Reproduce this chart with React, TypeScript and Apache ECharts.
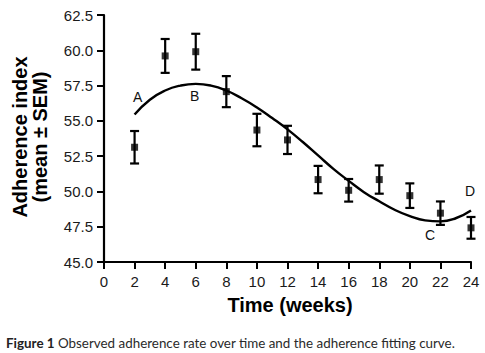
import React, { useEffect, useRef } from "react";
import * as echarts from "echarts";

const weeks = [2, 4, 6, 8, 10, 12, 14, 16, 18, 20, 22, 24];
const means = [53.13, 59.6, 59.9, 57.07, 54.35, 53.65, 50.84, 50.08, 50.84, 49.7, 48.46, 47.42];
const sems = [1.15, 1.2, 1.27, 1.1, 1.15, 1.0, 0.97, 0.8, 1.0, 0.87, 0.83, 0.77];

const fitWeeks = [2, 3, 4, 5, 6, 7, 8, 9, 10, 11, 12, 13, 14, 15, 16, 17, 18, 19, 20, 21, 22, 23, 24];
const fitValues = [55.45, 56.5, 57.15, 57.5, 57.62, 57.5, 57.15, 56.6, 55.95, 55.2, 54.4, 53.5, 52.55, 51.6, 50.75, 49.95, 49.3, 48.7, 48.25, 47.95, 47.88, 48.1, 48.65];

const pointLabels = ["A", "B", "C", "D"];
const pointLabelX = [2.2, 5.93, 21.32, 23.94];
const pointLabelY = [56.72, 56.74, 46.89, 50.05];

const xTicks = { min: 0, max: 24, interval: 2 };
const yTicks = { min: 45, max: 62.5, interval: 2.5 };

const xTitle = "Time (weeks)";
const yTitle = "Adherence index\n(mean ± SEM)";
const captionBold = "Figure 1";
const captionText = " Observed adherence rate over time and the adherence fitting curve.";

export default function App() {
  const ref = useRef<HTMLDivElement>(null);
  useEffect(() => {
    if (!ref.current) return;
    const chart = echarts.init(ref.current, null, { renderer: "svg" });
    const errData = weeks.map((w, i) => [w, means[i] - sems[i], means[i] + sems[i]]);
    const baseGraphic: any[] = [
      {
        type: "text",
        x: 290,
        y: 305,
        style: {
          text: xTitle,
          fill: "#000",
          font: "bold 20px 'Liberation Sans', Arial, sans-serif",
          textAlign: "center",
          textVerticalAlign: "middle",
        },
      },
      {
        type: "text",
        x: 30,
        y: 137,
        rotation: Math.PI / 2,
        style: {
          text: yTitle,
          fill: "#000",
          font: "bold 20px 'Liberation Sans', Arial, sans-serif",
          lineHeight: 20,
          textAlign: "center",
          textVerticalAlign: "middle",
        },
      },
      {
        type: "text",
        x: 6,
        y: 343,
        style: {
          text: "{b|" + captionBold + "}" + captionText,
          fill: "#2a2a2a",
          font: "13.4px Lato, 'Open Sans', sans-serif",
          textVerticalAlign: "middle",
          rich: {
            b: { fontWeight: "bold", fontSize: 13.4, fontFamily: "Lato, 'Open Sans', sans-serif", fill: "#222" },
          },
        },
      },
    ];
    chart.setOption({
      animation: false,
      backgroundColor: "#ffffff",
      grid: { left: 104, right: 14, top: 15, bottom: 91, containLabel: false },
      xAxis: {
        type: "value",
        min: xTicks.min,
        max: xTicks.max,
        interval: xTicks.interval,
        axisLine: { show: true, lineStyle: { color: "#000", width: 2.2 } },
        axisTick: { show: true, length: 7, lineStyle: { color: "#000", width: 2 } },
        axisLabel: { color: "#1a1a1a", fontSize: 15, fontFamily: "Liberation Sans, Arial, sans-serif", margin: 12 },
        splitLine: { show: false },
      },
      yAxis: {
        type: "value",
        min: yTicks.min,
        max: yTicks.max,
        interval: yTicks.interval,
        axisLine: { show: true, lineStyle: { color: "#000", width: 2.2 } },
        axisTick: { show: true, length: 7, lineStyle: { color: "#000", width: 2 } },
        axisLabel: {
          color: "#1a1a1a",
          fontSize: 15,
          fontFamily: "Liberation Sans, Arial, sans-serif",
          margin: 11,
          formatter: (v: number) => v.toFixed(1),
        },
        splitLine: { show: false },
      },
      series: [
        {
          type: "line",
          data: fitWeeks.map((w, i) => [w, fitValues[i]]),
          smooth: true,
          showSymbol: false,
          lineStyle: { color: "#000", width: 2.4 },
          z: 2,
        },
        {
          type: "custom",
          data: errData,
          renderItem: (params: any, api: any) => {
            const x = api.value(0);
            const lo = api.coord([x, api.value(1)]);
            const hi = api.coord([x, api.value(2)]);
            const hw = 4.5;
            const st = { stroke: "#000", lineWidth: 2.2 };
            return {
              type: "group",
              children: [
                { type: "line", shape: { x1: lo[0], y1: lo[1], x2: hi[0], y2: hi[1] }, style: st },
                { type: "line", shape: { x1: lo[0] - hw, y1: lo[1], x2: lo[0] + hw, y2: lo[1] }, style: st },
                { type: "line", shape: { x1: hi[0] - hw, y1: hi[1], x2: hi[0] + hw, y2: hi[1] }, style: st },
              ],
            };
          },
          z: 3,
        },
        {
          type: "scatter",
          data: weeks.map((w, i) => [w, means[i]]),
          symbol: "rect",
          symbolSize: 7,
          itemStyle: { color: "#000" },
          z: 4,
        },
      ],
      graphic: baseGraphic,
    });
    const labelGraphic = pointLabels.map((t, i) => {
      const p = chart.convertToPixel({ gridIndex: 0 }, [pointLabelX[i], pointLabelY[i]]) as number[];
      return {
        type: "text",
        x: p[0],
        y: p[1],
        style: {
          text: t,
          fill: "#111111",
          font: "14px 'Liberation Sans', Arial, sans-serif",
          textAlign: "center",
          textVerticalAlign: "middle",
        },
      };
    });
    chart.setOption({ graphic: [...baseGraphic, ...labelGraphic] });
    return () => chart.dispose();
  }, []);
  return (
    <div
      ref={ref}
      style={{ position: "fixed", left: 0, top: 0, width: 485, height: 353, background: "#fff" }}
    />
  );
}
